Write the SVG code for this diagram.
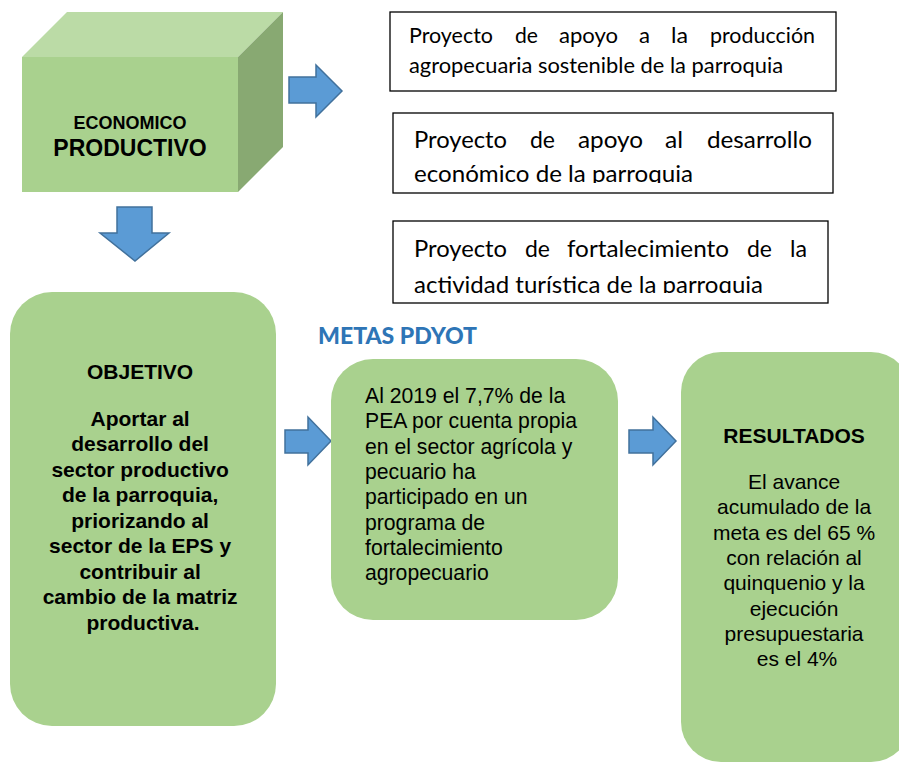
<svg xmlns="http://www.w3.org/2000/svg" width="899" height="764" viewBox="0 0 899 764">
<defs>
<style>
.green{fill:#A9D18E}
.arrow{fill:#5B9BD5;stroke:#41719C;stroke-width:1.5}
.box{fill:#fff;stroke:#000;stroke-width:1.3}
.cal{font-family:Lato,"Liberation Sans",sans-serif;fill:#000}
.s1{font-size:21px}
.s2{font-size:24px}
.s3{font-size:23.5px}
.ar{font-family:"Liberation Sans",Arial,sans-serif;fill:#000}
.b{font-weight:bold}
</style>
<clipPath id="clip2"><rect x="394" y="114" width="438" height="69"/></clipPath>
<clipPath id="clip3"><rect x="394" y="222" width="433" height="71"/></clipPath>
</defs>

<g id="cube">
<polygon points="22,57 67,12 283,12 238,57" fill="#BBDBA6"/>
<polygon points="238,57 283,12 283,147 238,192" fill="#88A972"/>
<rect x="22" y="57" width="216" height="135" class="green"/>
<text x="130" y="129" class="ar b" font-size="18" text-anchor="middle">ECONOMICO</text>
<text x="130" y="156" class="ar b" font-size="23" text-anchor="middle">PRODUCTIVO</text>
</g>

<g id="connectors">
<polygon class="arrow" points="289,77 316,77 316,65 342,91 316,117 316,103 289,103"/>
<polygon class="arrow" points="117,207 152,207 152,233 169,233 135,261 100,233 117,233"/>
<polygon class="arrow" points="285,430 308,430 308,417 331,441 308,465 308,453 285,453"/>
<polygon class="arrow" points="629,430 653,430 653,417 676,441 653,465 653,453 629,453"/>
</g>

<g id="proyecto1">
<rect class="box" x="390" y="12" width="446" height="79"/>
<text class="cal s1" x="409" y="43" textLength="84" lengthAdjust="spacingAndGlyphs">Proyecto</text>
<text class="cal s1" x="515" y="43" textLength="23" lengthAdjust="spacingAndGlyphs">de</text>
<text class="cal s1" x="559" y="43" textLength="59" lengthAdjust="spacingAndGlyphs">apoyo</text>
<text class="cal s1" x="639" y="43" textLength="11" lengthAdjust="spacingAndGlyphs">a</text>
<text class="cal s1" x="671" y="43" textLength="17" lengthAdjust="spacingAndGlyphs">la</text>
<text class="cal s1" x="710" y="43" textLength="105" lengthAdjust="spacingAndGlyphs">producción</text>
<text class="cal s1" x="409" y="73" textLength="374" lengthAdjust="spacingAndGlyphs">agropecuaria sostenible de la parroquia</text>
</g>

<g id="proyecto2">
<rect class="box" x="393" y="113" width="440" height="80"/>
<g clip-path="url(#clip2)">
<text class="cal s2" x="414" y="148" textLength="93" lengthAdjust="spacingAndGlyphs">Proyecto</text>
<text class="cal s2" x="530" y="148" textLength="25" lengthAdjust="spacingAndGlyphs">de</text>
<text class="cal s2" x="578" y="148" textLength="65" lengthAdjust="spacingAndGlyphs">apoyo</text>
<text class="cal s2" x="665" y="148" textLength="18" lengthAdjust="spacingAndGlyphs">al</text>
<text class="cal s2" x="707" y="148" textLength="105" lengthAdjust="spacingAndGlyphs">desarrollo</text>
<text class="cal s2" x="414" y="182" textLength="279" lengthAdjust="spacingAndGlyphs">económico de la parroquia</text>
</g>
</g>

<g id="proyecto3">
<rect class="box" x="393" y="221" width="435" height="82"/>
<g clip-path="url(#clip3)">
<text class="cal s3" x="414" y="257" textLength="93" lengthAdjust="spacingAndGlyphs">Proyecto</text>
<text class="cal s3" x="525" y="257" textLength="25" lengthAdjust="spacingAndGlyphs">de</text>
<text class="cal s3" x="567" y="257" textLength="162" lengthAdjust="spacingAndGlyphs">fortalecimiento</text>
<text class="cal s3" x="747" y="257" textLength="25" lengthAdjust="spacingAndGlyphs">de</text>
<text class="cal s3" x="790" y="257" textLength="17" lengthAdjust="spacingAndGlyphs">la</text>
<text class="cal s3" x="414" y="293" textLength="349" lengthAdjust="spacingAndGlyphs">actividad turística de la parroquia</text>
</g>
</g>

<g id="objetivo">
<rect class="green" x="10" y="292" width="266" height="434" rx="42"/>
<text class="ar b" font-size="21" text-anchor="middle" x="143">
<tspan x="143" y="379">OBJETIVO</tspan>
<tspan x="143" y="425.7">Aportar al</tspan>
<tspan x="143" y="451.2">desarrollo del</tspan>
<tspan x="143" y="476.7">sector productivo</tspan>
<tspan x="143" y="502.2">de la parroquia,</tspan>
<tspan x="143" y="527.7">priorizando al</tspan>
<tspan x="143" y="553.2">sector de la EPS y</tspan>
<tspan x="143" y="578.7">contribuir al</tspan>
<tspan x="143" y="604.2">cambio de la matriz</tspan>
<tspan x="143" y="629.7">productiva.</tspan>
</text>
</g>

<g id="metas-title">
<text x="318" y="344" font-family="Lato,'Liberation Sans',sans-serif" font-weight="900" font-size="22" fill="#2E75B6" textLength="159" lengthAdjust="spacingAndGlyphs">METAS PDYOT</text>
</g>

<g id="metas">
<rect class="green" x="331" y="359" width="287" height="261" rx="42"/>
<text class="ar" font-size="21.2">
<tspan x="365" y="403">Al 2019 el 7,7% de la</tspan>
<tspan x="365" y="428.3">PEA por cuenta propia</tspan>
<tspan x="365" y="453.6">en el sector agrícola y</tspan>
<tspan x="365" y="478.9">pecuario ha</tspan>
<tspan x="365" y="504.2">participado en un</tspan>
<tspan x="365" y="529.5">programa de</tspan>
<tspan x="365" y="554.8">fortalecimiento</tspan>
<tspan x="365" y="580.1">agropecuario</tspan>
</text>
</g>

<g id="resultados">
<rect class="green" x="681" y="352" width="230" height="410" rx="40"/>
<text class="ar" font-size="21" text-anchor="middle">
<tspan class="b" x="797" y="443">RESULTADOS</tspan>
<tspan x="797" y="489">El avance</tspan>
<tspan x="797" y="514.3">acumulado de la</tspan>
<tspan x="797" y="539.6">meta es del 65 %</tspan>
<tspan x="797" y="564.9">con relación al</tspan>
<tspan x="797" y="590.2">quinquenio y la</tspan>
<tspan x="797" y="615.5">ejecución</tspan>
<tspan x="797" y="640.8">presupuestaria</tspan>
<tspan x="797" y="666.1">es el 4%</tspan>
</text>
</g>
</svg>
